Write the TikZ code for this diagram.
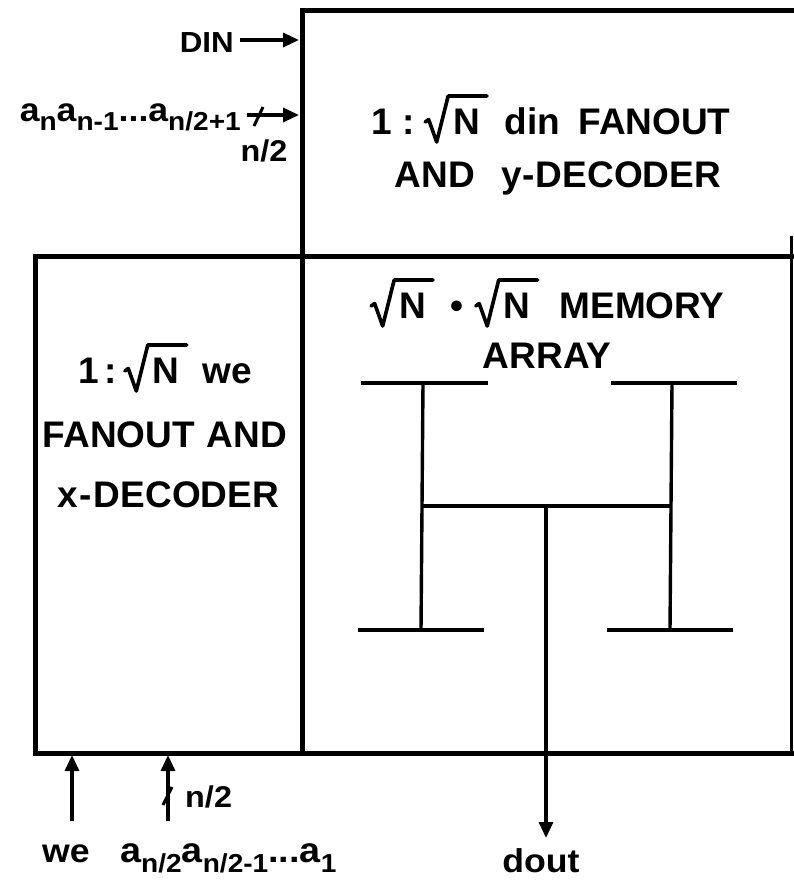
\documentclass[tikz,border=0pt]{standalone}
\usepackage{fontspec}
\setmainfont{Liberation Sans}[FakeStretch=1.08,UprightFont=*-Bold]
\newfontfamily\boxfont{Liberation Sans Bold}
\usetikzlibrary{arrows.meta}
\newcommand\sbx[1]{\raisebox{-0.3em}{\fontsize{26}{26}\selectfont #1}}
\newcommand\rt{\tikz[x=1pt,y=1pt,baseline=0pt]{\draw[line width=3.6pt,line join=round,line cap=round] (0,12) -- (3.5,14.5) -- (11.5,-8) -- (23,38) -- (62,38); \node[anchor=base west,inner sep=0pt] at (28,0) {N};}}
\begin{document}
\begin{tikzpicture}[x=1pt,y=-1pt,
  boxline/.style={line width=5pt,line cap=rect},
  hline/.style={line width=3.4pt},
  arr/.style={line width=3.2pt,-{Triangle[length=16pt,width=14pt]}},
  slashline/.style={line width=3pt},
  big/.style={inner sep=0pt,font=\boxfont\fontsize{37}{37}\selectfont},
  lbl/.style={inner sep=0pt,font=\fontsize{33}{33}\selectfont}]
\useasboundingbox (0,0) rectangle (794,886);
% boxes
\draw[boxline] (794,10) -- (302,10) -- (302,753);
\draw[boxline] (794,256) -- (35,256) -- (35,753) -- (791,753);
\draw[line width=3pt] (791,236) -- (791,753);
% box texts
\node[big,anchor=base] (t1) at (551,134) {1\hspace{10pt}:\hspace{9pt}\rt\hspace{16pt}din\hspace{18pt}FANOUT};
\node[big,anchor=base] (t2) at (558,187) {AND\hspace{26pt}y\kern1pt-\kern1pt DECODER};
\node[big,anchor=base] (m1) at (547,318) {\rt\hspace{16pt}\textbullet\hspace{10pt}\rt\hspace{20pt}MEMORY};
\node[big,anchor=base] (m2) at (547,368) {ARRAY};
\node[big,anchor=base] (l1) at (165,383) {1\hspace{6pt}:\hspace{6pt}\rt\hspace{14pt}we};
\node[big,anchor=base] (l2) at (165,447) {FANOUT\hspace{12pt}AND};
\node[big,anchor=base] (l3) at (168,507) {x\kern2pt-\kern2pt DECODER};
% H tree
\coordinate (tl1) at (361,383); \coordinate (tl2) at (488,383);
\coordinate (tr1) at (611,383); \coordinate (tr2) at (737,383);
\coordinate (bl1) at (358,630); \coordinate (bl2) at (484,630);
\coordinate (br1) at (607,630); \coordinate (br2) at (733,630);
\coordinate (lv1) at (423,383); \coordinate (lv2) at (421,630);
\coordinate (rv1) at (672,383); \coordinate (rv2) at (670,630);
\coordinate (ml) at (422,506); \coordinate (mr) at (671,506);
\coordinate (mc) at (546,506);
\draw[hline] (tl1) -- (tl2); \draw[hline] (tr1) -- (tr2);
\draw[hline] (bl1) -- (bl2); \draw[hline] (br1) -- (br2);
\draw[hline] (lv1) -- (lv2); \draw[hline] (rv1) -- (rv2);
\draw[hline] (ml) -- (mr);
% dout
\node[lbl,anchor=base] (dout) at (541,872) {dout};
\coordinate (doutTip) at (546,838);
\draw[arr] (mc) -- (doutTip);
% DIN
\node[lbl,anchor=base east,font=\fontsize{29}{29}\selectfont] (din) at (234,52) {DIN};
\coordinate (dinIn) at (299,40);
\draw[arr] (240,40) -- (dinIn);
% upper address
\node[lbl,anchor=base east] (atop) at (241,121) {a\sbx{n}a\sbx{n-1}...a\sbx{n/2+1}};
\coordinate (aIn) at (299,115);
\draw[arr] (247,115) -- (aIn);
\draw[slashline] (254,126) -- (263,107);
\node[lbl,anchor=base,font=\fontsize{30}{30}\selectfont] (n2a) at (264,161) {n/2};
% we
\node[lbl,anchor=base] (we) at (66,862) {we};
\coordinate (weFoot) at (72,821); \coordinate (weIn) at (72,755);
\draw[arr] (weFoot) -- (weIn);
% lower address
\node[lbl,anchor=base west,font=\fontsize{35}{35}\selectfont] (abot) at (120,862) {a\sbx{n/2}a\sbx{n/2-1}...a\sbx{1}};
\coordinate (abFoot) at (168,821); \coordinate (abIn) at (168,755);
\draw[arr] (abFoot) -- (abIn);
\draw[slashline] (163,805) -- (172,787);
\node[lbl,anchor=base west,font=\fontsize{30}{30}\selectfont] (n2b) at (185,807) {n/2};
\end{tikzpicture}
\end{document}
